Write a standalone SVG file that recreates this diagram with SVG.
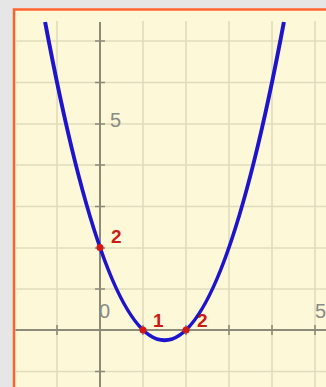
<svg xmlns="http://www.w3.org/2000/svg" width="326" height="387" viewBox="0 0 326 387">
  <style>
    .grid { stroke: #e0dbbc; stroke-width: 1.6; fill: none; }
    .axis { stroke: #8c8a78; stroke-width: 2; fill: none; }
    .tick { stroke: #8c8a78; stroke-width: 1.6; }
    .num { font-family: "Liberation Sans", Arial, sans-serif; font-size: 20px; fill: #8a8a84; }
    .lbl { font-family: "Liberation Sans", Arial, sans-serif; font-size: 19px; font-weight: bold; fill: #cc1a14; }
    .dot { fill: #d41818; }
    .curve { stroke: #1e14cc; stroke-width: 4; fill: none; }
  </style>
  <rect x="0" y="0" width="326" height="387" fill="#e6e6e6"/>
  <rect id="frame" x="14" y="9.5" width="340" height="400" fill="#fdf8d8" stroke="#ff6430" stroke-width="2.5"/>
  <g id="grid">
    <path class="grid" d="M57,21V387 M143,21V387 M186,21V387 M229,21V387 M272,21V387 M315,21V387"/>
    <path class="grid" d="M15.5,41H326 M15.5,82.5H326 M15.5,124H326 M15.5,165H326 M15.5,206.5H326 M15.5,248H326 M15.5,289H326 M15.5,371.5H326"/>
  </g>
  <g id="axes">
    <path class="axis" d="M100,22V387 M15.5,330H326"/>
    <path class="tick" d="M95,41H105 M95,82.5H105 M95,124H105 M95,165H105 M95,206.5H105 M95,248H105 M95,289H105 M95,371.5H105"/>
    <path class="tick" d="M57,325V335 M143,325V335 M186,325V335 M229,325V335 M272,325V335 M315,325V335"/>
  </g>
  <g id="axis-labels">
    <text class="num" x="110" y="127">5</text>
    <text class="num" x="99" y="318">0</text>
    <text class="num" x="315" y="318">5</text>
  </g>
  <g id="connectors">
    <path id="parabola" class="curve" d="M45.1,22 Q164.5,658.6 283.9,22"/>
  </g>
  <g id="point-y-intercept">
    <circle class="dot" cx="100" cy="247.4" r="3.5"/>
    <text class="lbl" x="111" y="243">2</text>
  </g>
  <g id="point-root-1">
    <circle class="dot" cx="143" cy="330" r="3.5"/>
    <text class="lbl" x="153" y="327">1</text>
  </g>
  <g id="point-root-2">
    <circle class="dot" cx="186" cy="330" r="3.5"/>
    <text class="lbl" x="197" y="327">2</text>
  </g>
</svg>
